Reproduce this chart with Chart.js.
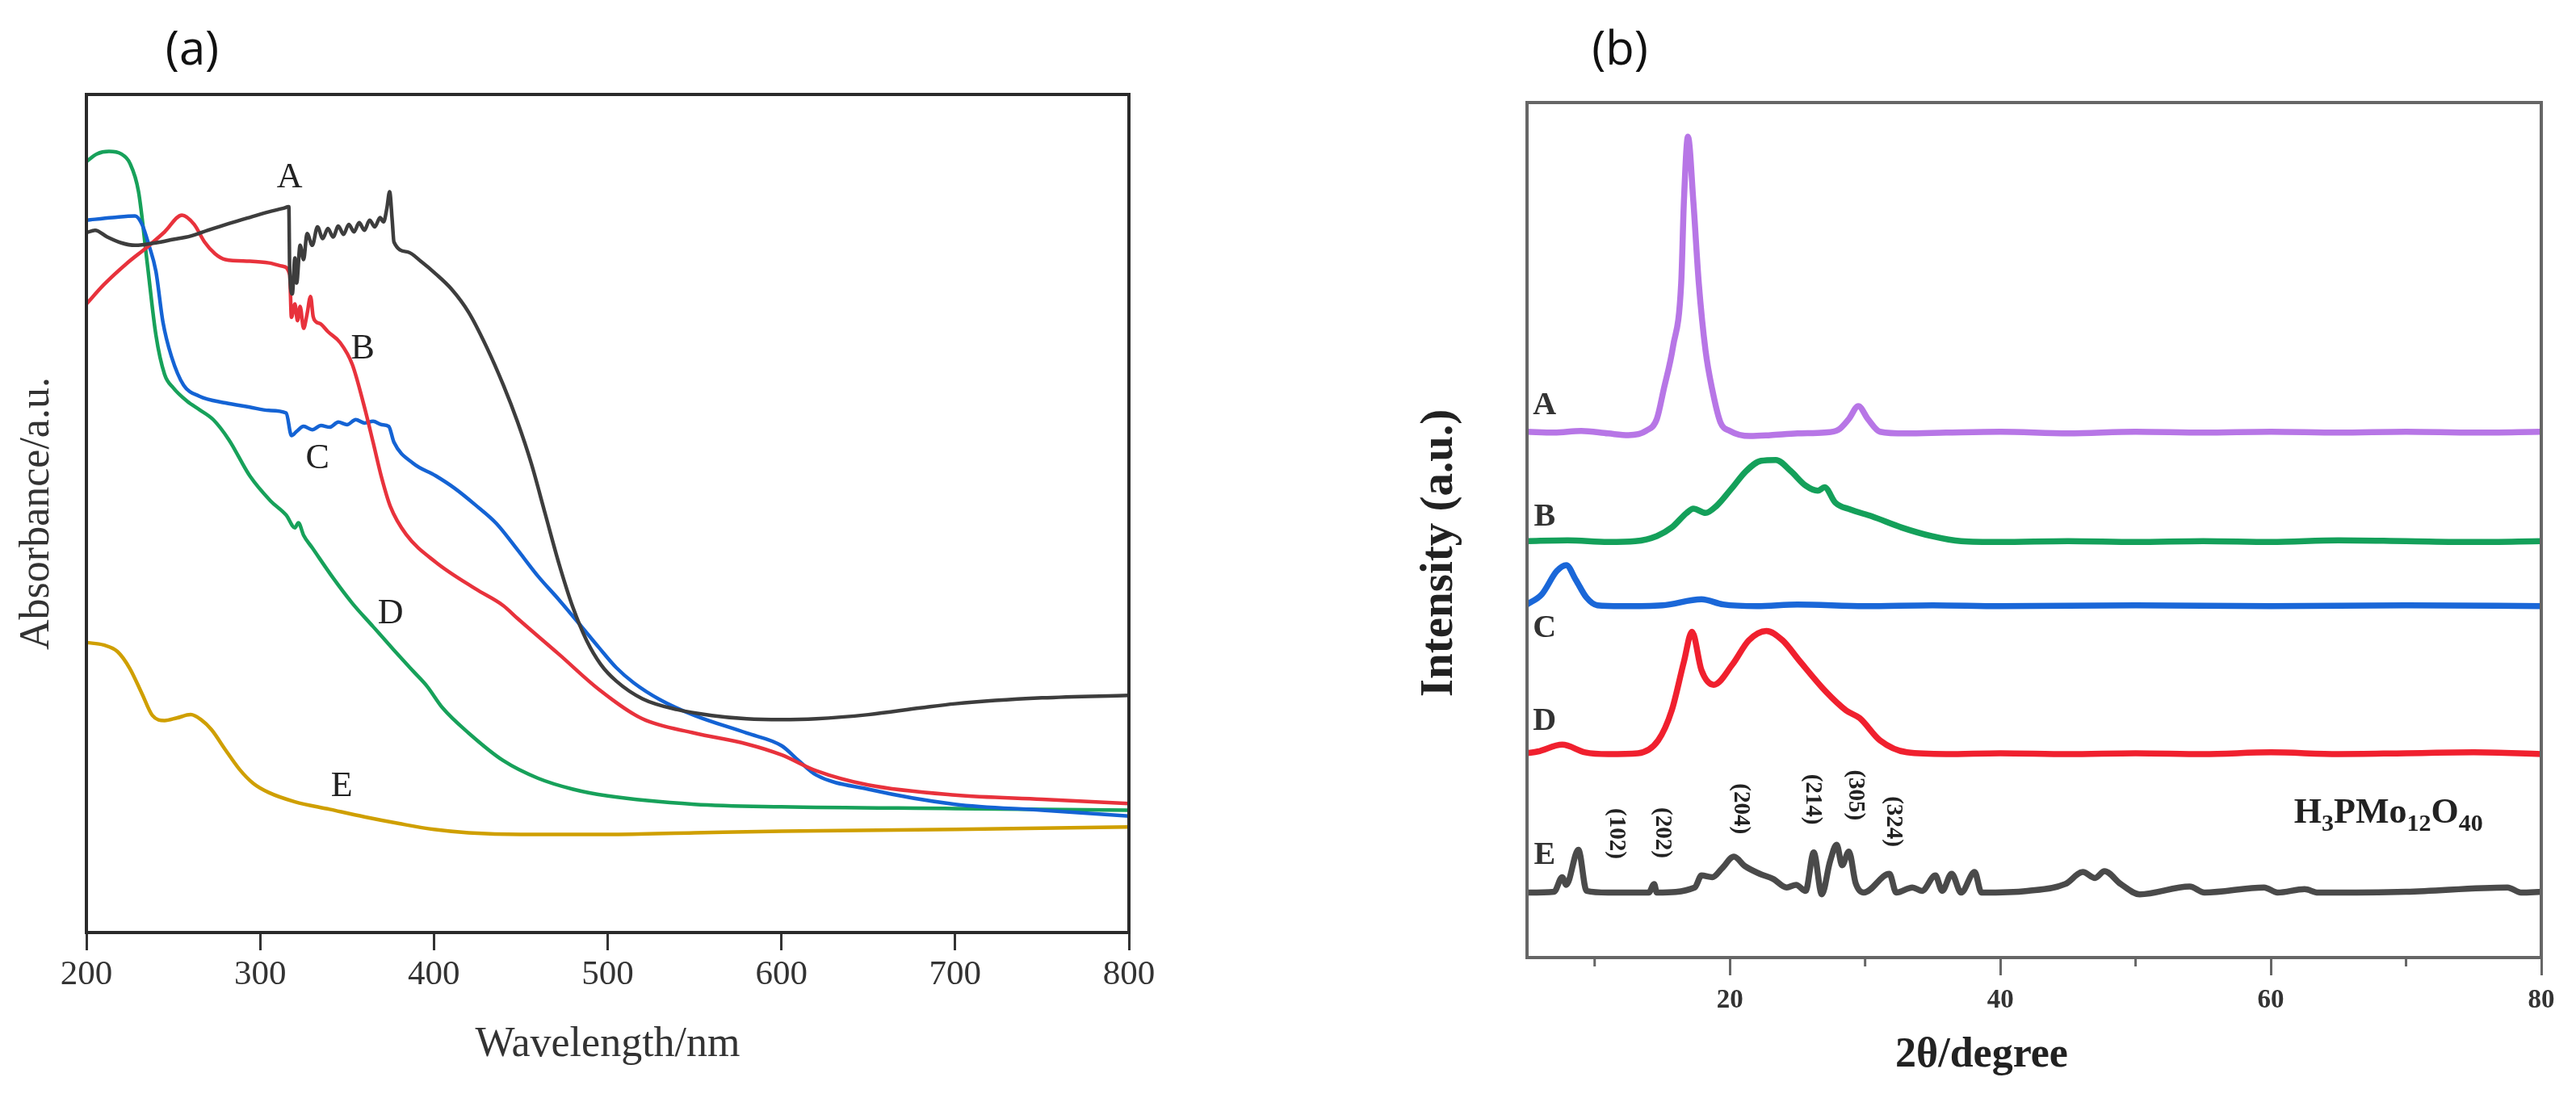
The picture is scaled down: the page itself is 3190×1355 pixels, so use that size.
<!DOCTYPE html>
<html>
<head>
<meta charset="utf-8">
<script src="https://cdn.jsdelivr.net/npm/chart.js@4.4.1/dist/chart.umd.min.js"></script>
<style>
    html, body { margin: 0; padding: 0; background: #fff; }
    body { width: 3190px; height: 1355px; position: relative; overflow: hidden; }
    canvas { position: absolute; top: 0; }
    #uv-chart { left: 0; }
    #xrd-chart { left: 1700px; }
    .panel-tag {
        position: absolute;
        font-family: "Open Sans", "Noto Sans", sans-serif;
        font-size: 58px;
        color: #111;
        transform: translate(-50%, -50%);
        line-height: 1;
    }
</style>
</head>
<body>
<canvas id="uv-chart" width="1450" height="1355"></canvas>
<canvas id="xrd-chart" width="1490" height="1355"></canvas>
<div class="panel-tag" style="left:238px; top:58px;">(a)</div>
<div class="panel-tag" style="left:2006px; top:58px;">(b)</div>
<script>
// ---- (a) UV-vis: wavelength (nm) / absorbance (a.u.) ----
const uvWlA = [200, 205, 212, 220, 228, 240, 250, 260, 270, 282, 295, 305, 313, 316.5, 317, 318.5, 320, 321, 323, 325, 327, 330, 333, 336, 339, 342, 345, 348, 351, 354, 357, 360, 363, 366, 369, 371, 373, 374.5, 376, 377, 385, 393, 401, 410, 420, 430, 440, 448, 456, 464, 472, 480, 488, 496, 505, 520, 540, 560, 580, 600, 620, 650, 680, 700, 750, 800];
const uvAbsA = [83.5, 83.8, 83.0, 82.3, 82.0, 82.3, 82.7, 83.1, 83.8, 84.6, 85.4, 86.0, 86.4, 86.6, 79.0, 76.2, 80.5, 77.5, 82.0, 80.3, 83.4, 82.0, 84.2, 82.8, 84.0, 83.0, 84.3, 83.3, 84.5, 83.6, 84.7, 83.8, 85.0, 84.2, 85.3, 84.8, 86.5, 88.4, 85.0, 82.4, 81.2, 80.0, 78.6, 76.8, 74.0, 70.0, 65.3, 61.0, 56.0, 50.0, 44.0, 38.8, 34.8, 32.0, 30.0, 27.9, 26.6, 25.9, 25.5, 25.4, 25.5, 26.0, 26.8, 27.3, 28.0, 28.3];

const uvWlB = [200, 210, 223, 235, 245, 255, 262, 268, 274, 280, 294, 305, 313, 317, 318, 320, 321.5, 323, 325, 327, 329, 330.5, 332, 335, 339, 346, 353, 360, 365, 370, 375, 384, 401, 424, 440, 448, 472, 495, 520, 550, 580, 600, 620, 650, 700, 750, 800];
const uvAbsB = [75.0, 77.3, 79.8, 81.8, 83.6, 85.6, 84.5, 82.4, 81.0, 80.3, 80.1, 79.9, 79.5, 78.5, 73.4, 75.0, 73.0, 74.7, 72.1, 73.8, 75.9, 73.5, 72.9, 72.6, 71.7, 70.4, 67.8, 62.7, 58.5, 54.2, 50.8, 47.5, 44.2, 41.0, 39.0, 37.5, 33.2, 29.0, 25.5, 23.8, 22.5, 21.2, 19.3, 17.6, 16.4, 15.9, 15.4];

const uvWlC = [200, 215, 228, 232, 236, 240, 244, 249, 256, 265, 280, 294, 305, 315, 318, 321, 325, 330, 335, 340, 345, 350, 355, 360, 365, 370, 374, 377, 388, 401, 412, 424, 436, 448, 460, 472, 485, 495, 505, 515, 530, 550, 580, 600, 610, 620, 650, 700, 750, 800];
const uvAbsC = [85.0, 85.3, 85.5, 84.5, 82.0, 78.9, 72.9, 68.7, 65.3, 64.0, 63.2, 62.7, 62.3, 62.0, 59.3, 59.8, 60.4, 60.0, 60.5, 60.3, 60.9, 60.6, 61.2, 60.8, 61.0, 60.6, 60.4, 58.5, 56.0, 54.5, 53.0, 51.0, 48.8, 45.7, 42.5, 39.7, 36.5, 34.0, 31.6, 29.8, 27.8, 25.9, 23.8, 22.3, 20.5, 18.8, 17.1, 15.3, 14.6, 13.9];

const uvWlD = [200, 206, 213, 220, 225, 230, 235, 240, 245, 250, 258, 265, 273, 282, 294, 306, 315, 320, 322, 325, 330, 342, 353, 365, 377, 388, 396, 405, 420, 440, 460, 480, 500, 550, 600, 700, 800];
const uvAbsD = [92.0, 92.9, 93.2, 92.9, 91.8, 88.4, 79.9, 71.3, 66.6, 65.0, 63.4, 62.4, 61.2, 58.8, 54.5, 51.5, 49.8, 48.3, 48.9, 47.4, 45.9, 42.3, 39.3, 36.5, 33.7, 31.2, 29.4, 26.8, 23.8, 20.5, 18.4, 17.1, 16.3, 15.3, 15.0, 14.8, 14.6];

const uvWlE = [200, 210, 218, 225, 232, 238, 245, 252, 260, 266, 272, 280, 288, 296, 305, 320, 340, 360, 380, 400, 420, 450, 500, 550, 600, 700, 800];
const uvAbsE = [34.6, 34.3, 33.5, 31.5, 28.5, 25.9, 25.3, 25.6, 26.0, 25.4, 24.2, 21.8, 19.5, 17.8, 16.7, 15.6, 14.7, 13.8, 13.0, 12.3, 11.9, 11.7, 11.7, 11.9, 12.1, 12.3, 12.6];

const uvTicks = [200, 300, 400, 500, 600, 700, 800];
const uvNames = ['A', 'B', 'C', 'D', 'E'];
const uvNameWl = [317, 359, 333, 375, 347];
const uvNameAbs = [90.0, 69.6, 56.5, 38.0, 17.4];

// ---- (b) XRD: 2theta (degree) / intensity (a.u., stacked) ----
const xrdThetaA = [5, 7, 9, 11, 12.5, 13.8, 14.6, 15.1, 15.8, 16.4, 16.6, 16.9, 17.3, 17.7, 18.2, 18.7, 19.3, 20, 21.5, 23, 25, 27, 28, 28.8, 29.5, 30.2, 31.1, 33, 36, 40, 45, 50, 55, 60, 65, 70, 75, 80];
const xrdIntA = [61.5, 61.4, 61.6, 61.3, 61.1, 61.6, 63.0, 66.4, 71.5, 78.9, 88.4, 96.0, 88.4, 78.9, 71.0, 66.4, 62.6, 61.6, 61.0, 61.1, 61.3, 61.4, 61.7, 63.0, 64.5, 63.0, 61.5, 61.3, 61.4, 61.5, 61.3, 61.5, 61.4, 61.5, 61.4, 61.5, 61.4, 61.5];

const xrdThetaB = [5, 8, 11, 13, 14.6, 15.7, 16.8, 17.3, 18.2, 19.0, 20.1, 21.2, 22.3, 23.4, 24.5, 25.6, 26.5, 27.0, 27.8, 28.9, 30.5, 32.7, 34.9, 37.1, 40, 45, 50, 55, 60, 65, 70, 75, 80];
const xrdIntB = [48.7, 48.8, 48.6, 48.7, 49.3, 50.3, 52.0, 52.5, 52.0, 52.8, 54.8, 56.9, 58.1, 58.2, 56.9, 55.2, 54.6, 55.0, 53.2, 52.4, 51.6, 50.3, 49.3, 48.7, 48.6, 48.7, 48.6, 48.7, 48.6, 48.8, 48.7, 48.6, 48.7];

const xrdThetaC = [5, 6.1, 7.2, 7.9, 8.6, 9.4, 10.2, 12, 15, 17.9, 19.5, 22, 25, 30, 35, 40, 50, 60, 70, 80];
const xrdIntC = [41.3, 42.5, 45.2, 45.9, 44.2, 42.1, 41.2, 41.1, 41.2, 41.9, 41.3, 41.1, 41.3, 41.1, 41.2, 41.1, 41.2, 41.1, 41.2, 41.1];

const xrdThetaD = [5, 5.8, 7.6, 9.3, 11, 13.2, 14.7, 15.7, 16.6, 17.2, 17.9, 18.8, 20.2, 21.4, 22.7, 23.9, 25.1, 27.1, 28.6, 29.6, 31.1, 33.1, 36, 40, 45, 50, 55, 60, 65, 70, 75, 80];
const xrdIntD = [23.9, 24.1, 24.9, 24.0, 23.8, 23.9, 25.4, 28.9, 34.6, 38.1, 33.6, 31.9, 34.3, 37.1, 38.2, 37.1, 34.8, 31.1, 28.9, 28.0, 25.4, 24.0, 23.8, 23.9, 23.8, 23.9, 23.8, 24.0, 23.8, 23.9, 24.0, 23.8];

const xrdThetaE = [5, 7.0, 7.6, 7.9, 8.8, 9.4, 11, 14.0, 14.4, 14.6, 17.4, 17.9, 18.7, 19.4, 20.3, 21.1, 22.2, 23.2, 24.2, 24.9, 25.6, 26.2, 26.8, 27.4, 27.9, 28.3, 28.8, 29.3, 29.9, 31.8, 32.3, 33.5, 34.2, 35.2, 35.7, 36.4, 37.1, 38.1, 38.6, 42.0, 44.8, 46.1, 47.0, 47.7, 48.9, 50.3, 54.0, 55.1, 59.5, 60.5, 62.5, 63.5, 70, 77.5, 78.5, 80];
const xrdIntE = [7.6, 7.7, 9.4, 8.5, 12.6, 7.8, 7.6, 7.6, 8.6, 7.6, 8.2, 9.6, 9.4, 10.4, 11.8, 10.7, 9.8, 9.2, 8.2, 8.5, 7.8, 12.3, 7.4, 11.2, 13.2, 10.8, 12.4, 8.7, 7.6, 9.8, 7.6, 8.2, 7.8, 9.6, 7.8, 9.8, 7.6, 10.0, 7.6, 7.8, 8.6, 10.0, 9.3, 10.1, 8.6, 7.4, 8.3, 7.6, 8.2, 7.6, 8.0, 7.6, 7.7, 8.2, 7.6, 7.7];

const xrdMajorTicks = [20, 40, 60, 80];
const xrdMinorTicks = [10, 30, 50, 70];
const xrdNames = ['A', 'B', 'C', 'D', 'E'];
const xrdNameTheta = [6.3, 6.3, 6.3, 6.3, 6.3];
const xrdNameInt = [64.5, 51.5, 38.5, 27.6, 11.9];
const xrdPlanes = ['(102)', '(202)', '(204)', '(214)', '(305)', '(324)'];
const xrdPlaneTheta = [11.6, 15.0, 20.8, 26.1, 29.3, 32.1];
const xrdPlaneInt = [14.5, 14.6, 17.4, 18.5, 19.0, 15.9];

const SERIF = '"Liberation Serif", "Times New Roman", "DejaVu Serif", serif';

// Gabungkan array x dan y menjadi titik
function toPoints(xs, ys) {
    return xs.map((x, i) => ({ x: x, y: ys[i] }));
}

function lineSet(xs, ys, color, width) {
    return {
        data: toPoints(xs, ys),
        borderColor: color,
        borderWidth: width,
        pointRadius: 0,
        fill: false,
        cubicInterpolationMode: 'monotone'
    };
}

// Bingkai di sekeliling area plot
function framePlugin(color, width) {
    return {
        id: 'frame',
        afterDatasetsDraw(chart) {
            const a = chart.chartArea;
            const ctx = chart.ctx;
            ctx.save();
            ctx.strokeStyle = color;
            ctx.lineWidth = width;
            ctx.strokeRect(a.left, a.top, a.right - a.left, a.bottom - a.top);
            ctx.restore();
        }
    };
}

// Label huruf pada kurva
function namesPlugin(names, xs, ys, font, color) {
    return {
        id: 'curveNames',
        afterDatasetsDraw(chart) {
            const ctx = chart.ctx;
            const sx = chart.scales.x, sy = chart.scales.y;
            ctx.save();
            ctx.font = font;
            ctx.fillStyle = color;
            ctx.textAlign = 'center';
            ctx.textBaseline = 'middle';
            names.forEach((t, i) => {
                ctx.fillText(t, sx.getPixelForValue(xs[i]), sy.getPixelForValue(ys[i]));
            });
            ctx.restore();
        }
    };
}

// Grafik (a) UV-vis
function setupUvChart() {
    const ctx = document.getElementById('uv-chart').getContext('2d');
    new Chart(ctx, {
        type: 'line',
        data: {
            datasets: [
                lineSet(uvWlA, uvAbsA, '#3d3d3d', 4.5),
                lineSet(uvWlB, uvAbsB, '#e8323c', 4.5),
                lineSet(uvWlC, uvAbsC, '#1463d4', 4.5),
                lineSet(uvWlD, uvAbsD, '#17a15a', 4.5),
                lineSet(uvWlE, uvAbsE, '#cf9f00', 4.5)
            ]
        },
        options: {
            responsive: false,
            animation: false,
            layout: { padding: { top: 117, right: 52, left: 0, bottom: 0 } },
            plugins: { legend: { display: false }, tooltip: { enabled: false } },
            scales: {
                x: {
                    type: 'linear',
                    min: 200,
                    max: 800,
                    afterBuildTicks: s => { s.ticks = uvTicks.map(v => ({ value: v })); },
                    ticks: {
                        font: { family: SERIF, size: 43 },
                        color: '#333',
                        padding: 5,
                        maxRotation: 0,
                        autoSkip: false
                    },
                    grid: {
                        display: true,
                        drawOnChartArea: false,
                        drawTicks: true,
                        tickLength: 22,
                        tickWidth: 3,
                        tickColor: '#333'
                    },
                    border: { display: false },
                    title: {
                        display: true,
                        text: 'Wavelength/nm',
                        font: { family: SERIF, size: 52 },
                        color: '#333',
                        padding: { top: 0, bottom: 29 }
                    },
                    afterFit: s => { s.height = 200; }
                },
                y: {
                    min: 0,
                    max: 100,
                    ticks: { display: false },
                    grid: { display: false, drawTicks: false },
                    border: { display: false },
                    title: {
                        display: true,
                        text: 'Absorbance/a.u.',
                        font: { family: SERIF, size: 52 },
                        color: '#333',
                        padding: { top: 15, bottom: 0 }
                    },
                    afterFit: s => { s.width = 107; }
                }
            }
        },
        plugins: [
            framePlugin('#2a2a2a', 4),
            namesPlugin(uvNames, uvNameWl, uvNameAbs, '44px ' + SERIF, '#222')
        ]
    });
}

// Label bidang kristal dan rumus kimia pada grafik (b)
const xrdExtrasPlugin = {
    id: 'xrdExtras',
    afterDatasetsDraw(chart) {
        const ctx = chart.ctx;
        const sx = chart.scales.x, sy = chart.scales.y;
        ctx.save();
        ctx.fillStyle = '#222';
        ctx.textAlign = 'center';
        ctx.textBaseline = 'middle';
        ctx.font = 'bold 29px ' + SERIF;
        xrdPlanes.forEach((t, i) => {
            ctx.save();
            ctx.translate(sx.getPixelForValue(xrdPlaneTheta[i]), sy.getPixelForValue(xrdPlaneInt[i]));
            ctx.rotate(Math.PI / 2);
            ctx.fillText(t, 0, 0);
            ctx.restore();
        });

        // H3PMo12O40 dengan subskrip
        const parts = [['H', 0], ['3', 1], ['PMo', 0], ['12', 1], ['O', 0], ['40', 1]];
        const bigFont = 'bold 44px ' + SERIF, smallFont = 'bold 30px ' + SERIF;
        let total = 0;
        parts.forEach(p => { ctx.font = p[1] ? smallFont : bigFont; total += ctx.measureText(p[0]).width; });
        let cx = sx.getPixelForValue(68.7) - total / 2;
        const cy = sy.getPixelForValue(17.1);
        ctx.textAlign = 'left';
        ctx.textBaseline = 'alphabetic';
        parts.forEach(p => {
            ctx.font = p[1] ? smallFont : bigFont;
            ctx.fillText(p[0], cx, cy + 14 + (p[1] ? 10 : 0));
            cx += ctx.measureText(p[0]).width;
        });

        // tick minor lebih pendek
        ctx.strokeStyle = '#666';
        ctx.lineWidth = 3;
        const base = chart.chartArea.bottom;
        xrdMinorTicks.forEach(v => {
            const px = sx.getPixelForValue(v);
            ctx.beginPath();
            ctx.moveTo(px, base);
            ctx.lineTo(px, base + 11);
            ctx.stroke();
        });
        ctx.restore();
    }
};

// Grafik (b) XRD
function setupXrdChart() {
    const ctx = document.getElementById('xrd-chart').getContext('2d');
    new Chart(ctx, {
        type: 'line',
        data: {
            datasets: [
                lineSet(xrdThetaA, xrdIntA, '#b776e6', 7.5),
                lineSet(xrdThetaB, xrdIntB, '#14a05a', 7.5),
                lineSet(xrdThetaC, xrdIntC, '#1a67d8', 7.5),
                lineSet(xrdThetaD, xrdIntD, '#f0202e', 7.5),
                lineSet(xrdThetaE, xrdIntE, '#4a4a4a', 7.5)
            ]
        },
        options: {
            responsive: false,
            animation: false,
            layout: { padding: { top: 127, right: 43, left: 0, bottom: 0 } },
            plugins: { legend: { display: false }, tooltip: { enabled: false } },
            scales: {
                x: {
                    type: 'linear',
                    min: 5,
                    max: 80,
                    afterBuildTicks: s => { s.ticks = xrdMajorTicks.map(v => ({ value: v })); },
                    ticks: {
                        font: { family: SERIF, size: 33, weight: 'bold' },
                        color: '#333',
                        padding: 12,
                        maxRotation: 0,
                        autoSkip: false
                    },
                    grid: {
                        display: true,
                        drawOnChartArea: false,
                        drawTicks: true,
                        tickLength: 22,
                        tickWidth: 3,
                        tickColor: '#666'
                    },
                    border: { display: false },
                    title: {
                        display: true,
                        // trailing spaces nudge the centred title a little to the left
                        text: '2θ/degree\u2003\u2003\u2002',
                        font: { family: SERIF, size: 52, weight: 'bold' },
                        color: '#222',
                        padding: { top: 0, bottom: 16 }
                    },
                    afterFit: s => { s.height = 169; }
                },
                y: {
                    min: 0,
                    max: 100,
                    ticks: { display: false },
                    grid: { display: false, drawTicks: false },
                    border: { display: false },
                    title: {
                        display: true,
                        text: 'Intensity (a.u.)\u2003',
                        font: { family: SERIF, size: 57, weight: 'bold' },
                        color: '#222',
                        padding: { top: 49, bottom: 0 }
                    },
                    afterFit: s => { s.width = 191; }
                }
            }
        },
        plugins: [
            framePlugin('#666', 4),
            namesPlugin(xrdNames, xrdNameTheta, xrdNameInt, 'bold 40px ' + SERIF, '#333'),
            xrdExtrasPlugin
        ]
    });
}

setupUvChart();
setupXrdChart();
</script>
</body>
</html>
